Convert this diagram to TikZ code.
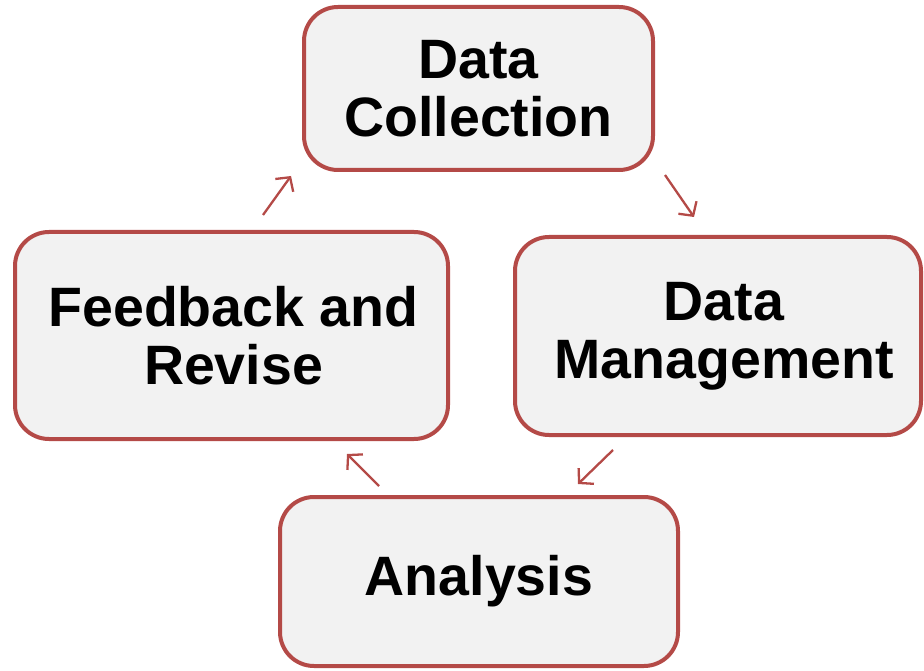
\documentclass[tikz,border=0pt]{standalone}
\usepackage{fontspec}
\setmainfont{Liberation Sans}
\usetikzlibrary{arrows.meta}
\definecolor{boxred}{HTML}{B44A47}
\definecolor{boxfill}{HTML}{F2F2F2}
\begin{document}
\begin{tikzpicture}[x=1pt,y=-1pt,
  stagebox/.style={draw=boxred,line width=4pt,fill=boxfill,rounded corners=34pt,
    align=center,inner sep=0pt,font=\fontsize{55.5}{58}\selectfont\bfseries},
  cyc/.style={draw=boxred,line width=2.3pt,-{Straight Barb[length=10pt,width=22pt,line width=2.3pt]}}]
\useasboundingbox (0,0) rectangle (924,671);
\node[stagebox,minimum width=349pt,minimum height=163pt] (dc) at (478.5,88.5) {Data\\Collection};
\node[stagebox,minimum width=406pt,minimum height=198pt] (dm) at (718,336) {\hspace*{12pt}Data\\\hspace*{12pt}Management};
\node[stagebox,minimum width=433pt,minimum height=207pt] (fr) at (231.5,335.5) {\hspace*{4pt}Feedback and\\\hspace*{4pt}Revise};
\node[stagebox,minimum width=398pt,minimum height=169pt] (an) at (479,581.5) {Analysis};
\coordinate (a1s) at (263,215); \coordinate (a1e) at (291,176);
\coordinate (a2s) at (665,175); \coordinate (a2e) at (694,217);
\coordinate (a3s) at (613,450); \coordinate (a3e) at (578,484);
\coordinate (a4s) at (379,486); \coordinate (a4e) at (347,454);
\draw[cyc] (a1s) -- (a1e);
\draw[cyc] (a2s) -- (a2e);
\draw[cyc] (a3s) -- (a3e);
\draw[cyc] (a4s) -- (a4e);
\end{tikzpicture}
\end{document}
